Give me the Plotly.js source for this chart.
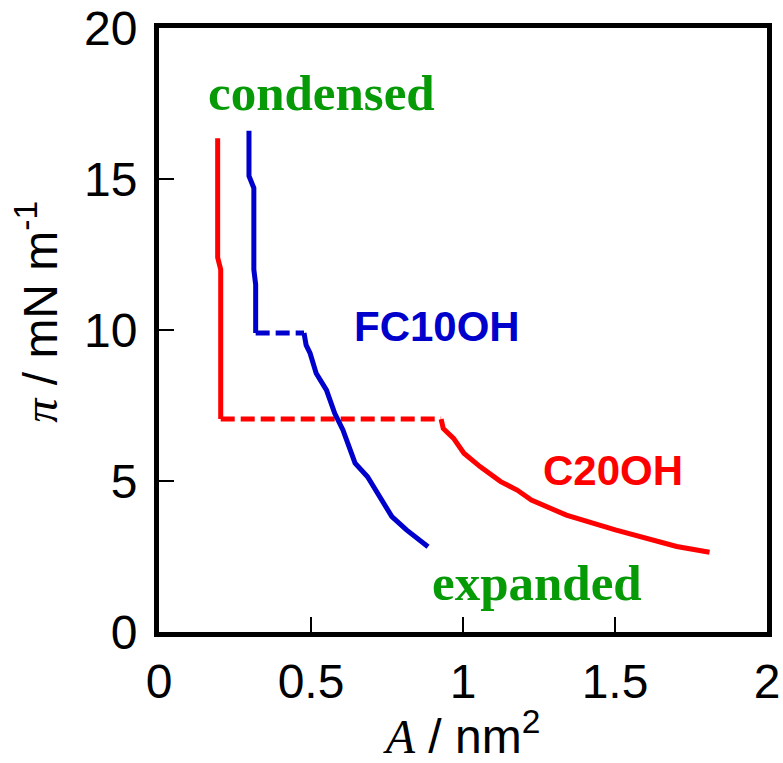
<!DOCTYPE html>
<html>
<head>
<meta charset="utf-8">
<script src="https://cdn.plot.ly/plotly-3.0.1.min.js"></script>
<style>html,body{margin:0;padding:0;background:#fff;}#chart{width:783px;height:763px;}</style>
</head>
<body>
<div id="chart"></div>
<script>
// C20OH (red)
const c20CondX = [0.193, 0.193, 0.203, 0.203];
const c20CondY = [16.35, 12.4, 12.0, 7.05];
const c20DashX = [0.203, 0.928];
const c20DashY = [7.05, 7.05];
const c20ExpX = [0.928, 0.935, 0.969, 1.003, 1.057, 1.124, 1.178, 1.225, 1.340, 1.501, 1.703, 1.811];
const c20ExpY = [7.05, 6.74, 6.41, 5.92, 5.47, 4.98, 4.70, 4.37, 3.87, 3.38, 2.83, 2.64];
// FC10OH (blue)
const fcCondX = [0.296, 0.296, 0.312, 0.312, 0.318, 0.318];
const fcCondY = [16.6, 15.1, 14.7, 12.0, 11.5, 9.9];
const fcDashX = [0.318, 0.477];
const fcDashY = [9.9, 9.9];
const fcExpX = [0.477, 0.484, 0.497, 0.517, 0.551, 0.578, 0.605, 0.645, 0.686, 0.726, 0.766, 0.814, 0.885];
const fcExpY = [9.9, 9.5, 9.23, 8.57, 8.01, 7.24, 6.69, 5.59, 5.14, 4.48, 3.82, 3.38, 2.82];

const xTicks = [0, 0.5, 1, 1.5, 2];
const xTickText = ['0', '0.5', '1', '1.5', '2'];
const yTicks = [0, 5, 10, 15, 20];
const yTickText = ['0', '5', '10', '15', '20'];

const RED = '#ff0000', BLUE = '#0000cc', GREEN = '#079a07';
const DASH = '14px,6px';

function tr(x, y, color, dash) {
  return {x: x, y: y, type: 'scatter', mode: 'lines', hoverinfo: 'skip',
    line: {color: color, width: 5, dash: dash || 'solid'}};
}

const data = [
  tr(c20CondX, c20CondY, RED),
  tr(c20DashX, c20DashY, RED, DASH),
  tr(c20ExpX, c20ExpY, RED),
  tr(fcCondX, fcCondY, BLUE),
  tr(fcDashX, fcDashY, BLUE, DASH),
  tr(fcExpX, fcExpY, BLUE)
];

const SANS = 'Liberation Sans, Arial, sans-serif';
const SERIF = 'Liberation Serif, Times New Roman, serif';
const FS = 48;

const layout = {
  width: 783, height: 763,
  margin: {l: 159, r: 16, t: 28, b: 131},
  paper_bgcolor: '#fff', plot_bgcolor: '#fff',
  showlegend: false,
  font: {family: SANS, color: '#000', size: FS},
  xaxis: {
    range: [0, 2], tickvals: xTicks, ticktext: xTickText,
    showgrid: false, zeroline: false,
    showline: true, mirror: true, linecolor: '#000', linewidth: 5,
    ticks: 'inside', ticklen: 15, tickwidth: 2.5, tickcolor: '#000',
    ticklabelstandoff: 3,
    tickfont: {family: SANS, size: FS, color: '#000'},
    title: {text: '<span style="font-family:Liberation Serif"><i>A</i></span> / nm<sup>2</sup>', font: {family: SANS, size: FS, color: '#000'}, standoff: 8}
  },
  yaxis: {
    range: [0, 20], tickvals: yTicks, ticktext: yTickText,
    showgrid: false, zeroline: false,
    showline: true, mirror: true, linecolor: '#000', linewidth: 5,
    ticks: 'inside', ticklen: 15, tickwidth: 2.5, tickcolor: '#000',
    ticklabelstandoff: 7,
    tickfont: {family: SANS, size: FS, color: '#000'}
  },
  annotations: [
    {x: -0.2, y: 0.531, xref: 'paper', yref: 'paper', xanchor: 'center', yanchor: 'middle',
     textangle: -90, showarrow: false,
     text: '<span style="font-family:Liberation Serif"><i>π</i></span> / mN m<sup>-1</sup>',
     font: {family: SANS, size: FS, color: '#000'}},
    {x: 0.536, y: 17.85, xref: 'x', yref: 'y', text: '<b>condensed</b>', showarrow: false,
     font: {family: SERIF, size: 51, color: GREEN}},
    {x: 1.243, y: 1.62, xref: 'x', yref: 'y', text: '<b>expanded</b>', showarrow: false,
     font: {family: SERIF, size: 51, color: GREEN}},
    {x: 0.914, y: 10.1, xref: 'x', yref: 'y', text: '<b>FC10OH</b>', showarrow: false,
     font: {family: SANS, size: 42, color: BLUE}},
    {x: 1.493, y: 5.36, xref: 'x', yref: 'y', text: '<b>C20OH</b>', showarrow: false,
     font: {family: SANS, size: 42, color: RED}}
  ]
};

Plotly.newPlot('chart', data, layout, {staticPlot: true, displayModeBar: false});
</script>
</body>
</html>
